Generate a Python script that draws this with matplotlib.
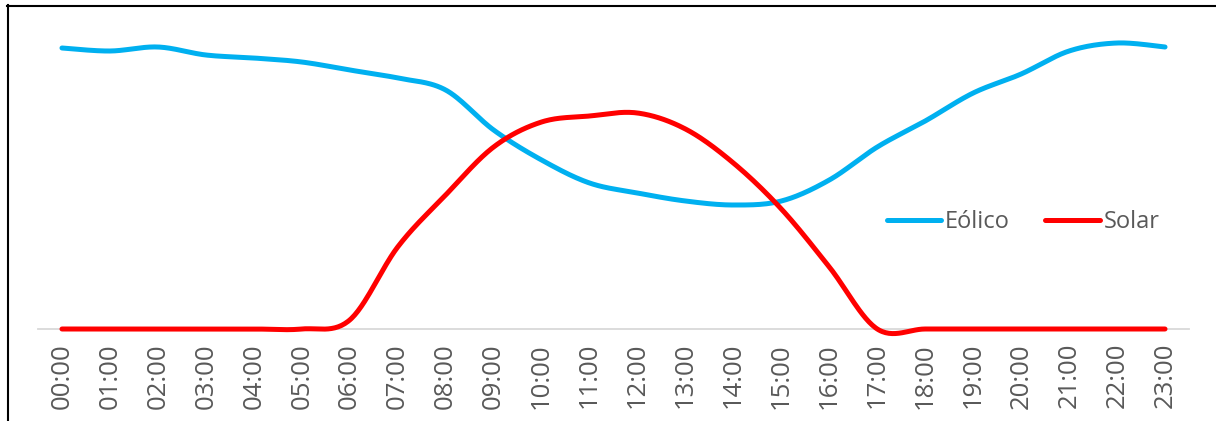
import numpy as np
import matplotlib
matplotlib.use("Agg")
import matplotlib.pyplot as plt
from matplotlib.lines import Line2D

plt.rcParams["font.family"] = ["Open Sans", "DejaVu Sans"]

hours = [f"{h:02d}:00" for h in range(24)]
eolico = [281, 278, 282, 274, 271, 267, 259, 251, 239, 199, 169, 146,
          136, 128, 124, 128, 149, 182, 208, 236, 255, 278, 286, 282]
solar = [0, 0, 0, 0, 0, 0, 9, 82, 134, 182, 207, 213,
         216, 200, 166, 120, 62, 0, 0, 0, 0, 0, 0, 0]

C_EOL = "#00B0F0"
C_SOL = "#FF0000"
GRAY = "#595959"


def smooth(y, n=30):
    # bezier smoothing through every point (catmull-rom style control points)
    y = np.asarray(y, float)
    x = np.arange(len(y), dtype=float)
    P = np.column_stack([x, y])
    out = []
    t = np.linspace(0, 1, n)[:, None]
    for i in range(len(P) - 1):
        p0 = P[max(i - 1, 0)]
        p1 = P[i]
        p2 = P[i + 1]
        p3 = P[min(i + 2, len(P) - 1)]
        c1 = p1 + (p2 - p0) / 6
        c2 = p2 - (p3 - p1) / 6
        seg = ((1 - t) ** 3) * p1 + 3 * ((1 - t) ** 2) * t * c1 \
            + 3 * (1 - t) * t ** 2 * c2 + t ** 3 * p2
        out.append(seg if i == 0 else seg[1:])
    seg = np.vstack(out)
    return seg[:, 0], seg[:, 1]


W, H = 1216, 421
fig = plt.figure(figsize=(W / 100, H / 100), dpi=100)
ax = fig.add_axes([38 / W, 92 / H, 1151 / W, 309 / H])

for vals, col, name in [(eolico, C_EOL, "Eólico"), (solar, C_SOL, "Solar")]:
    sx, sy = smooth(vals)
    ax.plot(sx, sy, color=col, lw=3.6, solid_capstyle="round",
            clip_on=False, label=name, zorder=3)

ax.set_xlim(-0.5, 23.5)
ax.set_ylim(0, 309)
ax.set_xticks(range(24))
ax.set_xticklabels(hours, rotation=90, color=GRAY, fontsize=18.5)
ax.tick_params(axis="x", length=0, pad=10)
ax.set_yticks([])
for s in ["top", "left", "right"]:
    ax.spines[s].set_visible(False)
ax.spines["bottom"].set_color("#d9d9d9")
ax.spines["bottom"].set_linewidth(1.3)

leg = ax.legend(loc="center", bbox_to_anchor=(0.856, 0.346), ncol=2,
                frameon=False, fontsize=17, handlelength=2.3,
                handletextpad=0.17, columnspacing=1.5)
for t in leg.get_texts():
    t.set_color(GRAY)

# page frame around the chart
fig.add_artist(Line2D([7 / W, 1], [1 - 5.5 / H, 1 - 5.5 / H],
                      color="black", lw=1.5, transform=fig.transFigure))
fig.add_artist(Line2D([7.5 / W, 7.5 / W], [0, 1 - 5 / H],
                      color="black", lw=1.5, transform=fig.transFigure))

fig.savefig("out.png", dpi=100)
